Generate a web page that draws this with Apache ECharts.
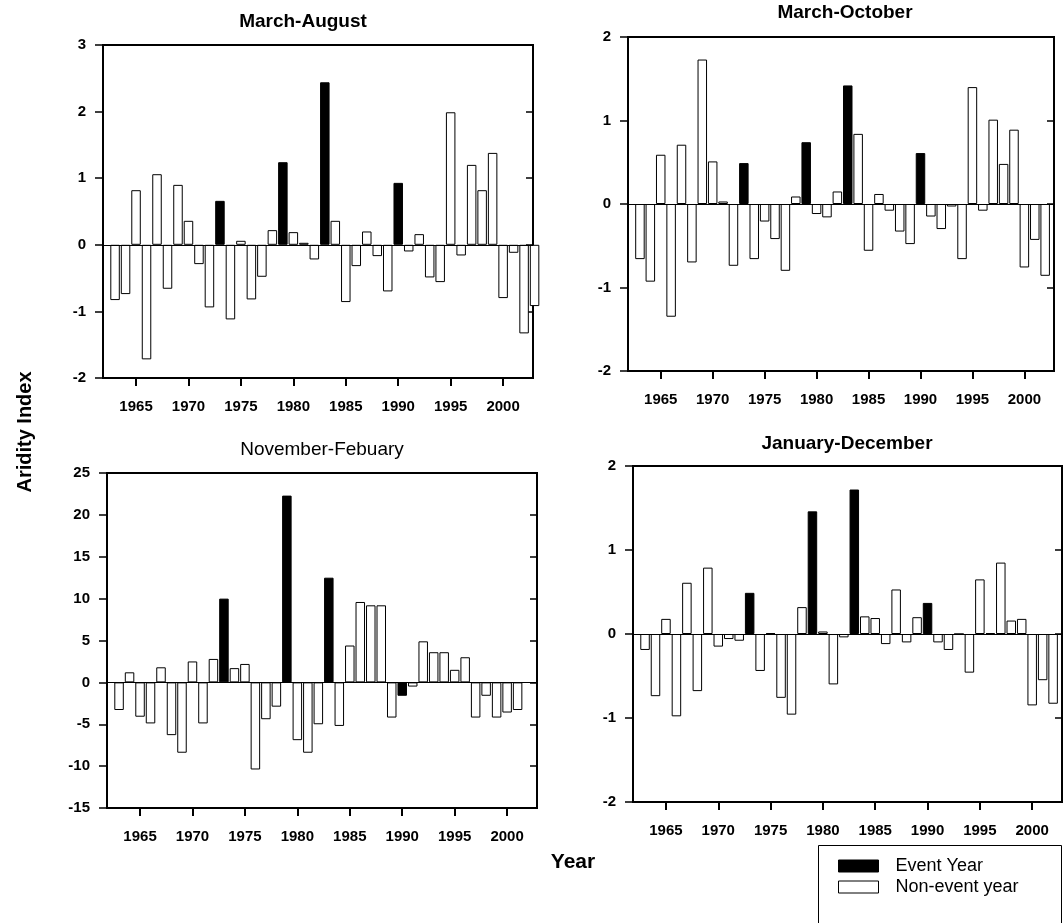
<!DOCTYPE html>
<html>
<head>
<meta charset="utf-8">
<title>Aridity Index</title>
<script src="https://cdn.jsdelivr.net/npm/echarts@6/dist/echarts.min.js"></script>
<style>
  html, body { margin: 0; padding: 0; background: #fff; }
  #chartBox { width: 1064px; height: 923px; }
</style>
</head>
<body>
<div id="chartBox"></div>
<script>
// 数据
const years = [1963, 1964, 1965, 1966, 1967, 1968, 1969, 1970, 1971, 1972,
  1973, 1974, 1975, 1976, 1977, 1978, 1979, 1980, 1981, 1982,
  1983, 1984, 1985, 1986, 1987, 1988, 1989, 1990, 1991, 1992,
  1993, 1994, 1995, 1996, 1997, 1998, 1999, 2000, 2001, 2002, 2003]
const eventYears = [1973, 1979, 1983, 1990]
const xTicks = [1965, 1970, 1975, 1980, 1985, 1990, 1995, 2000]

const marAug = [-0.83, -0.74, 0.82, -1.72, 1.06, -0.66, 0.9, 0.36, -0.29, -0.94,
  0.66, -1.12, 0.06, -0.82, -0.48, 0.22, 1.24, 0.19, 0.03, -0.22,
  2.44, 0.36, -0.86, -0.32, 0.2, -0.17, -0.7, 0.93, -0.1, 0.16,
  -0.49, -0.56, 1.99, -0.16, 1.2, 0.82, 1.38, -0.8, -0.12, -1.33, -0.92]
const marOct = [-0.66, -0.93, 0.59, -1.35, 0.71, -0.7, 1.73, 0.51, 0.03, -0.74,
  0.49, -0.66, -0.21, -0.42, -0.8, 0.09, 0.74, -0.12, -0.16, 0.15,
  1.42, 0.84, -0.56, 0.12, -0.08, -0.33, -0.48, 0.61, -0.15, -0.3,
  -0.03, -0.66, 1.4, -0.08, 1.01, 0.48, 0.89, -0.76, -0.43, -0.86, null]
const novFeb = [-3.3, 1.2, -4.1, -4.9, 1.8, -6.3, -8.4, 2.5, -4.9, 2.8,
  10, 1.7, 2.2, -10.4, -4.4, -2.9, 22.3, -6.9, -8.4, -5.0,
  12.5, -5.2, 4.4, 9.6, 9.2, 9.2, -4.2, -1.6, -0.5, 4.9,
  3.6, 3.6, 1.5, 3.0, -4.2, -1.6, -4.2, -3.6, -3.3, null, null]
const janDec = [-0.19, -0.74, 0.18, -0.98, 0.61, -0.68, 0.79, -0.15, -0.06, -0.08,
  0.49, -0.44, 0.01, -0.76, -0.96, 0.32, 1.46, 0.03, -0.6, -0.04,
  1.72, 0.21, 0.19, -0.12, 0.53, -0.1, 0.2, 0.37, -0.1, -0.19,
  0, -0.46, 0.65, 0.01, 0.85, 0.16, 0.18, -0.85, -0.55, -0.83, null]

const panels = [
  { title: 'March-August', values: marAug, min: -2, max: 3, interval: 1,
    grid: { left: 103, top: 45, width: 430, height: 333 }, titleX: 303, titleY: 22, bold: true },
  { title: 'March-October', values: marOct, min: -2, max: 2, interval: 1,
    grid: { left: 628, top: 37, width: 426, height: 334 }, titleX: 845, titleY: 13, bold: true },
  { title: 'November-Febuary', values: novFeb, min: -15, max: 25, interval: 5,
    grid: { left: 107, top: 473, width: 430, height: 335 }, titleX: 322, titleY: 450, bold: false },
  { title: 'January-December', values: janDec, min: -2, max: 2, interval: 1,
    grid: { left: 633, top: 466, width: 429, height: 336 }, titleX: 847, titleY: 444, bold: true }
]

const font = 'Liberation Sans, Arial, Helvetica, sans-serif'
const grids = []
const xAxes = []
const yAxes = []
const series = []
const graphics = []

panels.forEach(function(p, i) {
  grids.push(Object.assign({ show: true, borderColor: '#000', borderWidth: 2, backgroundColor: '#fff' }, p.grid))
  xAxes.push({
    type: 'value',
    gridIndex: i,
    min: 1961.85,
    max: 2002.85,
    axisLine: { show: true, onZero: false, lineStyle: { color: '#000', width: 2 } },
    axisTick: { show: true, customValues: xTicks, length: 8, lineStyle: { color: '#000', width: 2 } },
    axisLabel: {
      customValues: xTicks,
      margin: 21,
      color: '#000',
      fontFamily: font,
      fontWeight: 'bold',
      fontSize: 15,
      formatter: function(v) { return String(v) }
    },
    splitLine: { show: false }
  })
  yAxes.push({
    type: 'value',
    gridIndex: i,
    min: p.min,
    max: p.max,
    interval: p.interval,
    position: 'left',
    axisLine: { show: true, lineStyle: { color: '#000', width: 2 } },
    axisTick: { show: true, length: 8, lineStyle: { color: '#000', width: 1.5 } },
    axisLabel: { margin: 17, color: '#000', fontFamily: font, fontWeight: 'bold', fontSize: 15 },
    splitLine: { show: false }
  })
  yAxes.push({
    type: 'value',
    gridIndex: i,
    min: p.min,
    max: p.max,
    interval: p.interval,
    position: 'right',
    axisLine: { show: false },
    axisTick: { show: true, inside: true, length: 7, lineStyle: { color: '#000', width: 1.5 } },
    axisLabel: { show: false },
    splitLine: { show: false }
  })

  const eventData = []
  const otherData = []
  years.forEach(function(y, k) {
    const v = p.values[k]
    if (v === null || v === undefined) return
    if (eventYears.indexOf(y) >= 0) eventData.push([y, v])
    else otherData.push([y, v])
  })

  series.push({
    name: 'Non-event year',
    type: 'bar',
    xAxisIndex: i,
    yAxisIndex: i * 2,
    barWidth: 9.5,
    barGap: '-100%',
    clip: true,
    itemStyle: { color: '#fff', borderColor: '#000', borderWidth: 1 },
    data: otherData,
    markLine: {
      silent: true,
      symbol: 'none',
      label: { show: false },
      lineStyle: { color: '#000', width: 1, type: 'solid' },
      data: [{ yAxis: 0 }]
    },
    z: 3
  })
  series.push({
    name: 'Event Year',
    type: 'bar',
    xAxisIndex: i,
    yAxisIndex: i * 2,
    barWidth: 9.5,
    barGap: '-100%',
    clip: true,
    itemStyle: { color: '#000', borderColor: '#000', borderWidth: 1 },
    data: eventData,
    z: 4
  })

  graphics.push({
    type: 'text',
    x: p.titleX,
    y: p.titleY,
    style: {
      text: p.title,
      fill: '#000',
      font: (p.bold ? 'bold ' : '') + '19px ' + font,
      textAlign: 'center',
      textVerticalAlign: 'middle'
    }
  })
})

graphics.push({
  type: 'text',
  x: 25,
  y: 432,
  rotation: Math.PI / 2,
  style: { text: 'Aridity Index', fill: '#000', font: 'bold 20px ' + font, textAlign: 'center', textVerticalAlign: 'middle' }
})
graphics.push({
  type: 'text',
  x: 573,
  y: 862,
  style: { text: 'Year', fill: '#000', font: 'bold 21px ' + font, textAlign: 'center', textVerticalAlign: 'middle' }
})
// 图例外框
graphics.push({
  type: 'rect',
  shape: { x: 818.5, y: 845.5, width: 243, height: 90 },
  style: { fill: '#fff', stroke: '#000', lineWidth: 1 },
  z: -1
})

const chart = echarts.init(document.getElementById('chartBox'))
chart.setOption({
  animation: false,
  legend: {
    left: 838,
    top: 857,
    orient: 'vertical',
    padding: 0,
    icon: 'rect',
    itemWidth: 40,
    itemHeight: 12,
    itemGap: 3,
    data: [
      { name: 'Event Year', itemStyle: { color: '#000', borderColor: '#000', borderWidth: 1 } },
      { name: 'Non-event year', itemStyle: { color: '#fff', borderColor: '#000', borderWidth: 1 } }
    ],
    textStyle: { color: '#000', fontFamily: font, fontSize: 18, padding: [0, 0, 0, 12] }
  },
  grid: grids,
  xAxis: xAxes,
  yAxis: yAxes,
  series: series,
  graphic: graphics
})
window.addEventListener('resize', function() {
  chart.resize()
})
</script>
</body>
</html>
